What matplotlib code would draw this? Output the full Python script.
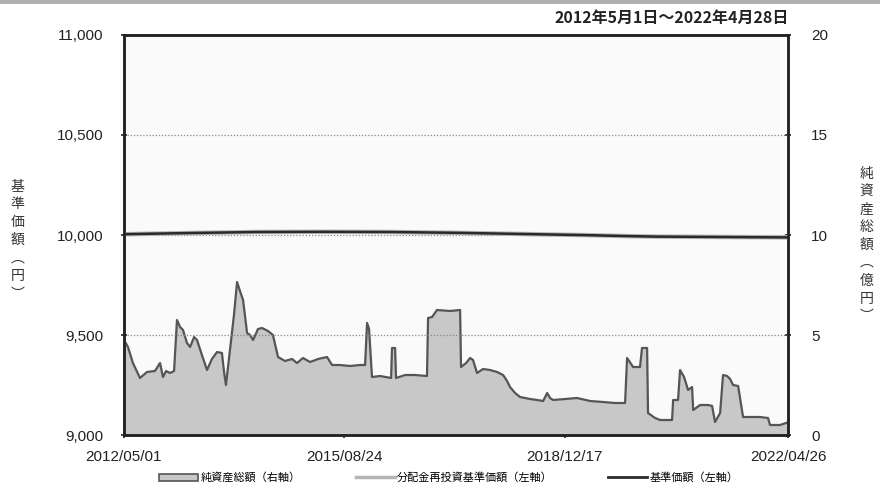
import matplotlib
matplotlib.use('Agg')
import matplotlib.pyplot as plt
import pandas as pd

plt.rcParams['font.family'] = ['Liberation Sans', 'Noto Sans CJK JP', 'DejaVu Sans']
cjk = ['Noto Sans CJK JP', 'DejaVu Sans']

# 純資産総額（億円）
asset_dates = ['2012-05-01', '2012-05-23', '2012-06-19', '2012-07-28', '2012-09-04', '2012-10-18',
               '2012-11-15', '2012-12-01', '2012-12-18', '2013-01-09', '2013-01-31', '2013-02-16',
               '2013-03-05', '2013-03-21', '2013-04-12', '2013-04-29', '2013-05-21', '2013-06-06',
               '2013-07-03', '2013-07-31', '2013-08-27', '2013-09-24', '2013-10-21', '2013-11-01',
               '2013-11-12', '2013-12-04', '2013-12-26', '2014-01-12', '2014-01-28', '2014-02-14',
               '2014-03-08', '2014-03-24', '2014-04-10', '2014-05-07', '2014-05-29', '2014-07-01',
               '2014-07-28', '2014-08-25', '2014-10-02', '2014-11-10', '2014-12-07', '2015-01-09',
               '2015-02-17', '2015-04-02', '2015-05-21', '2015-06-18', '2015-07-31', '2015-09-24',
               '2015-11-18', '2015-12-16', '2015-12-27', '2016-01-07', '2016-01-23', '2016-03-07',
               '2016-05-07', '2016-05-12', '2016-05-29', '2016-06-03', '2016-07-23', '2016-09-15',
               '2016-11-20', '2016-11-26', '2016-12-18', '2017-01-14', '2017-03-27', '2017-05-21',
               '2017-05-26', '2017-06-23', '2017-07-15', '2017-07-31', '2017-08-22', '2017-09-24',
               '2017-11-01', '2017-12-10', '2018-01-12', '2018-02-03', '2018-02-19', '2018-03-19',
               '2018-04-15', '2018-06-09', '2018-07-18', '2018-08-20', '2018-09-11', '2018-09-27',
               '2018-10-14', '2018-12-18', '2019-02-22', '2019-05-05', '2019-07-15', '2019-09-19',
               '2019-11-13', '2019-11-24', '2019-12-27', '2020-02-03', '2020-02-14', '2020-03-13',
               '2020-03-18', '2020-04-26', '2020-05-23', '2020-07-28', '2020-08-03', '2020-08-30',
               '2020-09-10', '2020-10-02', '2020-10-24', '2020-11-15', '2020-11-21', '2020-12-29',
               '2021-02-11', '2021-03-05', '2021-03-21', '2021-04-18', '2021-05-04', '2021-05-26',
               '2021-06-12', '2021-06-28', '2021-07-26', '2021-08-22', '2021-11-24', '2022-01-06',
               '2022-01-17', '2022-03-13', '2022-04-15', '2022-04-26']
asset_values = [4.75, 4.4, 3.6, 2.85, 3.15, 3.2,
                3.6, 2.9, 3.2, 3.1, 3.2, 5.75,
                5.4, 5.25, 4.6, 4.4, 4.9, 4.75,
                4.0, 3.25, 3.8, 4.15, 4.1, 3.2,
                2.5, 4.25, 6.0, 7.65, 7.2, 6.75,
                5.1, 5.0, 4.75, 5.3, 5.35, 5.2,
                5.0, 3.9, 3.7, 3.8, 3.6, 3.85,
                3.65, 3.8, 3.9, 3.5, 3.5, 3.45,
                3.5, 3.5, 5.6, 5.3, 2.9, 2.95,
                2.85, 4.35, 4.35, 2.85, 3.0, 3.0,
                2.95, 5.85, 5.9, 6.25, 6.2, 6.25,
                3.4, 3.6, 3.85, 3.75, 3.1, 3.3,
                3.25, 3.15, 3.0, 2.7, 2.4, 2.1,
                1.9, 1.8, 1.75, 1.7, 2.1, 1.85,
                1.75, 1.8, 1.85, 1.7, 1.65, 1.6,
                1.6, 3.85, 3.4, 3.4, 4.35, 4.35,
                1.1, 0.85, 0.75, 0.75, 1.75, 1.75,
                3.25, 2.9, 2.25, 2.4, 1.25, 1.5,
                1.5, 1.45, 0.65, 1.1, 3.0, 2.95,
                2.8, 2.5, 2.45, 0.9, 0.9, 0.85,
                0.5, 0.5, 0.6, 0.65]

# 基準価額・分配金再投資基準価額（円）
nav_dates = ['2012-05-01', '2013-05-01', '2014-05-01', '2015-05-01', '2016-05-01', '2017-05-01',
             '2018-05-01', '2019-05-01', '2019-11-01', '2020-05-01', '2021-05-01', '2022-04-26']
nav_values = [10004, 10010, 10015, 10016, 10015, 10011, 10005, 9999, 9995, 9992, 9990, 9988]
reinvest_values = [10004, 10010, 10015, 10016, 10015, 10011, 10005, 9999, 9995, 9992, 9990, 9988]

xtick_dates = ['2012-05-01', '2015-08-24', '2018-12-17', '2022-04-26']
xtick_labels = ['2012/05/01', '2015/08/24', '2018/12/17', '2022/04/26']

fig = plt.figure(figsize=(8.8, 4.95), dpi=100)
fig.add_artist(plt.Rectangle((0, 0.992), 1, 0.008, transform=fig.transFigure,
                             color='#b0b0b0', lw=0))

ax = fig.add_axes([0.1409, 0.1212, 0.7546, 0.8081])
ax.set_facecolor('#fafafa')
ax.fill_between(pd.to_datetime(asset_dates), asset_values, 0, color='#c8c8c8', lw=0, zorder=2)
ax.plot(pd.to_datetime(asset_dates), asset_values, color='#555555', lw=1.6, zorder=3)
ax.set_ylim(0, 20)
ax.set_yticks([0, 5, 10, 15, 20])

ax2 = ax.twinx()
ax2.patch.set_visible(False)
ax.yaxis.tick_right()
ax2.yaxis.tick_left()
ax2.set_ylim(9000, 11000)
ax2.set_yticks([9000, 9500, 10000, 10500, 11000])
ax2.set_yticklabels(['9,000', '9,500', '10,000', '10,500', '11,000'])
for v in [9500, 10000, 10500]:
    ax2.axhline(v, color='#888888', ls=(0, (1, 1.5)), lw=0.9, zorder=1)
ax2.plot(pd.to_datetime(nav_dates), reinvest_values, color='#b4b4b4', lw=3.2)
ax2.plot(pd.to_datetime(nav_dates), nav_values, color='#2a2a2a', lw=1.8)

ax.set_xlim(pd.Timestamp('2012-05-01'), pd.Timestamp('2022-04-26'))
ax.set_xticks(pd.to_datetime(xtick_dates))
ax.set_xticklabels(xtick_labels)

for a in (ax, ax2):
    for s in a.spines.values():
        s.set_linewidth(1.8)
        s.set_color('#222222')
    a.tick_params(axis='both', direction='inout', length=5, width=1.2, labelsize=11,
                  colors='#222222')

ax.tick_params(axis='y', pad=14)
ax2.tick_params(axis='y', pad=12)
ax.tick_params(axis='x', pad=8)

fig.text(0.02, 0.515, '基\n準\n価\n額\n︵\n円\n︶', family=cjk, fontsize=10,
         ha='center', va='center', linespacing=1.35, color='#333333')
fig.text(0.985, 0.505, '純\n資\n産\n総\n額\n︵\n億\n円\n︶', family=cjk, fontsize=10,
         ha='center', va='center', linespacing=1.35, color='#333333')
fig.text(0.897, 0.963, '2012年5月1日～2022年4月28日', family=cjk, fontsize=11.5,
         fontweight='bold', ha='right', va='center', color='#222222')

h1 = plt.Rectangle((0, 0), 1, 1, facecolor='#c8c8c8', edgecolor='#555555', lw=1.2)
h2, = ax.plot([], [], color='#b4b4b4', lw=2.5)
h3, = ax.plot([], [], color='#2a2a2a', lw=2.0)
leg = fig.legend([h1, h2, h3], ['純資産総額（右軸）', '分配金再投資基準価額（左軸）', '基準価額（左軸）'],
                 loc='center', bbox_to_anchor=(0.51, 0.035), ncol=3, frameon=False,
                 prop={'family': cjk, 'size': 8}, handlelength=3.5, handleheight=0.6,
                 handletextpad=0.2, columnspacing=5)

fig.savefig('out.png', dpi=100)
